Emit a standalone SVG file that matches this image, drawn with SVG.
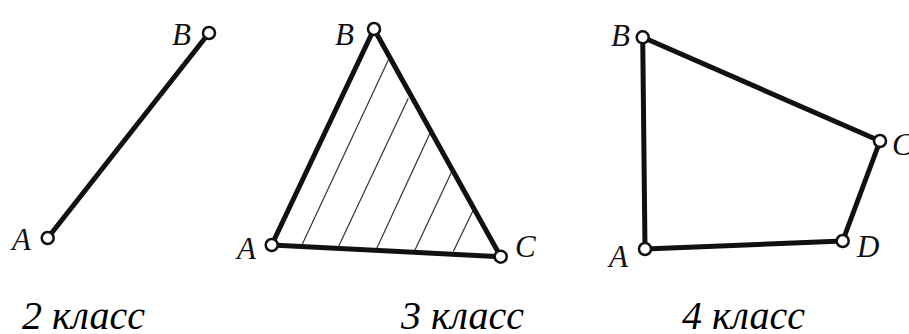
<svg xmlns="http://www.w3.org/2000/svg" width="909" height="334" viewBox="0 0 909 334">
<style>
.edge{stroke:#111;stroke-width:5;stroke-linecap:round;fill:none}
.hatch{stroke:#333;stroke-width:1.2;fill:none}
.pt{fill:#fff;stroke:#111;stroke-width:2.5}
</style>
<rect width="909" height="334" fill="#fff"/>
<g id="connectors">
<line class="edge" x1="47.7" y1="238" x2="209" y2="33"/>
<g id="hatching">
<line class="hatch" x1="301.7" y1="245.5" x2="388.3" y2="60"/>
<line class="hatch" x1="338.3" y1="247" x2="408.3" y2="98.3"/>
<line class="hatch" x1="376.7" y1="248.5" x2="430" y2="133.3"/>
<line class="hatch" x1="415" y1="250" x2="451.7" y2="171.7"/>
<line class="hatch" x1="453.3" y1="251.5" x2="473.3" y2="210"/>
</g>
<line class="edge" x1="271.7" y1="245" x2="374" y2="29"/>
<line class="edge" x1="374" y1="29" x2="500.7" y2="256.7"/>
<line class="edge" x1="271.7" y1="245" x2="500.7" y2="256.7"/>
<line class="edge" x1="645" y1="249" x2="642.7" y2="37.3"/>
<line class="edge" x1="642.7" y1="37.3" x2="880" y2="141"/>
<line class="edge" x1="880" y1="141" x2="842.7" y2="241"/>
<line class="edge" x1="842.7" y1="241" x2="645" y2="249"/>
</g>
<g id="fig1-A"><circle class="pt" cx="47.7" cy="238" r="6"/><text x="12" y="250" style="font-family:'Liberation Serif',serif;font-style:italic;font-size:31px;fill:#111">A</text></g>
<g id="fig1-B"><circle class="pt" cx="209" cy="33" r="6"/><text x="172" y="45" style="font-family:'Liberation Serif',serif;font-style:italic;font-size:31px;fill:#111">B</text></g>
<g id="fig2-A"><circle class="pt" cx="271.7" cy="245" r="6"/><text x="237" y="259" style="font-family:'Liberation Serif',serif;font-style:italic;font-size:31px;fill:#111">A</text></g>
<g id="fig2-B"><circle class="pt" cx="374" cy="29" r="6"/><text x="335" y="45" style="font-family:'Liberation Serif',serif;font-style:italic;font-size:31px;fill:#111">B</text></g>
<g id="fig2-C"><circle class="pt" cx="500.7" cy="256.7" r="6"/><text x="515" y="257" style="font-family:'Liberation Serif',serif;font-style:italic;font-size:31px;fill:#111">C</text></g>
<g id="fig3-A"><circle class="pt" cx="645" cy="249" r="6"/><text x="609" y="267" style="font-family:'Liberation Serif',serif;font-style:italic;font-size:31px;fill:#111">A</text></g>
<g id="fig3-B"><circle class="pt" cx="642.7" cy="37.3" r="6"/><text x="611" y="46" style="font-family:'Liberation Serif',serif;font-style:italic;font-size:31px;fill:#111">B</text></g>
<g id="fig3-C"><circle class="pt" cx="880" cy="141" r="6"/><text x="892" y="155" style="font-family:'Liberation Serif',serif;font-style:italic;font-size:31px;fill:#111">C</text></g>
<g id="fig3-D"><circle class="pt" cx="842.7" cy="241" r="6"/><text x="857" y="257" style="font-family:'Liberation Serif',serif;font-style:italic;font-size:31px;fill:#111">D</text></g>
<g id="captions">
<text x="22" y="329" style="font-family:'Liberation Serif',serif;font-style:italic;font-size:40px;fill:#000">2 класс</text>
<text x="401" y="329" style="font-family:'Liberation Serif',serif;font-style:italic;font-size:40px;fill:#000">3 класс</text>
<text x="682" y="329" style="font-family:'Liberation Serif',serif;font-style:italic;font-size:40px;fill:#000">4 класс</text>
</g>
</svg>
